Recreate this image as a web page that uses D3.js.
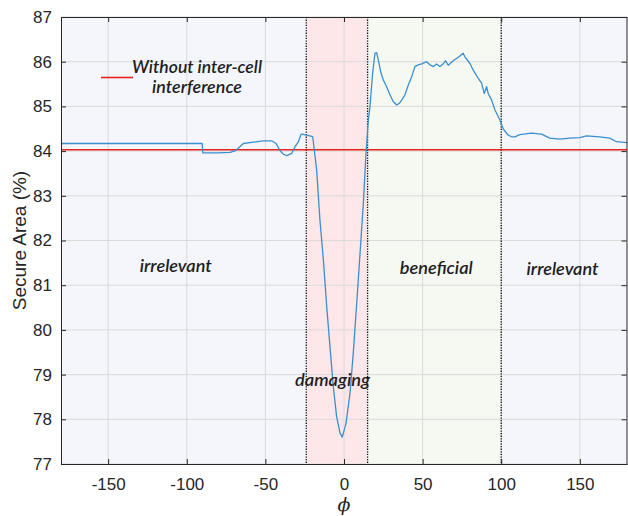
<!DOCTYPE html>
<html>
<head>
<meta charset="utf-8">
<script src="https://cdn.jsdelivr.net/npm/d3@7/dist/d3.min.js"></script>
<style>
  html, body { margin: 0; padding: 0; background: #fff; }
  svg { display: block; }
</style>
</head>
<body>
<svg id="chart" width="628" height="516"></svg>
<script>
// ---- data ----
const phi = [-180, -90.2, -89.8, -80, -72.4, -69, -64, -57.6, -51.3, -46, -43.2, -40.7, -38.5, -36.4, -33.2, -31.1, -29, -27.3, -26.9, -23.7, -20.5, -19.9, -17.4, -15.3, -13.1, -11, -8.9, -6.8, -4.7, -2.5, -1.1, 1.3, 3.8, 5.9, 8.1, 10.2, 12.3, 14.0, 15.5, 16.5, 18.2, 19.7, 20.8, 21.8, 23.3, 25.0, 27.1, 29.2, 31.3, 33.5, 35.2, 36.7, 38.8, 40.9, 43.0, 45.1, 47.2, 49.4, 52.5, 54.7, 56.8, 58.9, 61.0, 63.0, 64.6, 66.3, 69.5, 72.7, 75.8, 76.9, 80.1, 82.2, 85.3, 87.5, 89.2, 90.7, 91.7, 93.9, 96.0, 99.1, 101.2, 103.4, 104.4, 106.6, 108.7, 111.8, 119.3, 125.6, 130.9, 137.3, 143.6, 150.0, 154.2, 162.7, 169.0, 173.3, 180];
const secureArea = [84.17, 84.17, 83.96, 83.96, 83.97, 84.01, 84.17, 84.20, 84.23, 84.23, 84.17, 84.01, 83.93, 83.90, 83.95, 84.10, 84.21, 84.38, 84.38, 84.36, 84.33, 84.32, 83.58, 82.46, 81.56, 80.52, 79.62, 78.73, 78.06, 77.69, 77.60, 77.91, 78.58, 79.48, 80.60, 81.71, 82.83, 83.95, 84.70, 84.99, 85.74, 86.19, 86.20, 86.04, 85.78, 85.59, 85.44, 85.26, 85.11, 85.03, 85.07, 85.14, 85.26, 85.48, 85.66, 85.89, 85.93, 85.95, 86.00, 85.93, 85.89, 85.95, 85.89, 85.95, 86.02, 85.92, 86.02, 86.10, 86.19, 86.11, 85.96, 85.81, 85.63, 85.52, 85.29, 85.44, 85.29, 85.14, 84.92, 84.70, 84.50, 84.40, 84.36, 84.32, 84.32, 84.37, 84.40, 84.38, 84.29, 84.27, 84.29, 84.30, 84.34, 84.32, 84.29, 84.21, 84.19];
const baselineValue = 84.03;           // "Without inter-cell interference"
const boundaries = [-24, 15, 100];      // dotted region limits
const regions = [
  {from: -180, to: -24, fill: "#f4f6fb"},
  {from: -24, to: 15, fill: "#fde7e9"},
  {from: 15, to: 100, fill: "#f6f9f2"},
  {from: 100, to: 180, fill: "#f4f6fb"}
];
const regionLabels = [
  {text: "irrelevant", x: -107, y: 81.30, len: 72},
  {text: "damaging", x: -7.3, y: 78.75, len: 75},
  {text: "beneficial", x: 58.7, y: 81.25, len: 73},
  {text: "irrelevant", x: 139, y: 81.23, len: 72}
];
const xTicks = [-150, -100, -50, 0, 50, 100, 150];
const yTicks = [77, 78, 79, 80, 81, 82, 83, 84, 85, 86, 87];
const legendLines = [{text: "Without inter-cell", len: 130}, {text: "interference", len: 90}];

// ---- layout ----
const svg = d3.select("#chart");
const W = 628, H = 516;
const m = {left: 61, right: 1, top: 17, bottom: 52};
const x = d3.scaleLinear().domain([-180, 180]).range([m.left, W - m.right]);
const y = d3.scaleLinear().domain([77, 87]).range([H - m.bottom, m.top]);

const g = svg.append("g");

// region shading
g.selectAll("rect.region").data(regions).join("rect")
  .attr("x", d => x(d.from)).attr("width", d => x(d.to) - x(d.from))
  .attr("y", m.top).attr("height", y(77) - m.top)
  .attr("fill", d => d.fill);

// grid
g.selectAll("line.gx").data(xTicks).join("line")
  .attr("x1", d => x(d)).attr("x2", d => x(d))
  .attr("y1", m.top).attr("y2", y(77))
  .attr("stroke", "#dadada").attr("stroke-width", 1);
g.selectAll("line.gy").data(yTicks).join("line")
  .attr("x1", m.left).attr("x2", W - m.right)
  .attr("y1", d => y(d)).attr("y2", d => y(d))
  .attr("stroke", "#dadada").attr("stroke-width", 1);

// dotted boundaries
g.selectAll("line.bd").data(boundaries).join("line")
  .attr("x1", d => x(d)).attr("x2", d => x(d))
  .attr("y1", m.top).attr("y2", y(77))
  .attr("stroke", "#111").attr("stroke-width", 1.3)
  .attr("stroke-dasharray", "1.3,1.3");

// baseline (red)
g.append("line")
  .attr("x1", x(-180)).attr("x2", x(180))
  .attr("y1", y(baselineValue)).attr("y2", y(baselineValue))
  .attr("stroke", "#e8231f").attr("stroke-width", 1.6);

// data line
const line = d3.line().x((d, i) => x(phi[i])).y(d => y(d));
g.append("path").datum(secureArea)
  .attr("d", line)
  .attr("fill", "none")
  .attr("stroke", "#3b8fcf")
  .attr("stroke-width", 1.3)
  .attr("stroke-linejoin", "round");

// axes
const axisColor = "#262626";
const axisFont = "'Liberation Sans', Arial, Helvetica, sans-serif";
const fmt = d => String(d);
const xAxis = d3.axisBottom(x).tickValues(xTicks).tickSizeInner(-5).tickSizeOuter(0).tickPadding(14).tickFormat(fmt);
const xa = g.append("g").attr("transform", `translate(0,${y(77)})`).call(xAxis);
const yAxis = d3.axisLeft(y).tickValues(yTicks).tickSizeInner(-5).tickSizeOuter(0).tickPadding(9).tickFormat(fmt);
const ya = g.append("g").attr("transform", `translate(${m.left},0)`).call(yAxis);
// top and right box
const xt = g.append("g").attr("transform", `translate(0,${m.top})`)
  .call(d3.axisTop(x).tickValues(xTicks).tickSizeInner(-5).tickSizeOuter(0).tickFormat(""));
const yr = g.append("g").attr("transform", `translate(${W - m.right - 0.5},0)`)
  .call(d3.axisRight(y).tickValues(yTicks).tickSizeInner(-5).tickSizeOuter(0).tickFormat(""));
[xa, ya, xt, yr].forEach(a => {
  a.attr("font-family", axisFont).attr("font-size", 17);
  a.selectAll("path.domain").attr("stroke", axisColor).attr("stroke-width", 1);
  a.selectAll(".tick line").attr("stroke", axisColor).attr("stroke-width", 1);
  a.selectAll(".tick text").attr("fill", axisColor);
});

// axis labels
svg.append("text")
  .attr("transform", `translate(26,${(m.top + y(77)) / 2}) rotate(-90)`)
  .attr("text-anchor", "middle")
  .attr("fill", axisColor)
  .attr("font-family", axisFont).attr("font-size", 19)
  .text("Secure Area (%)");
svg.append("text")
  .attr("x", x(0)).attr("y", 511)
  .attr("text-anchor", "middle")
  .attr("fill", axisColor)
  .attr("font-family", "'DejaVu Serif', serif").attr("font-style", "italic").attr("font-size", 19)
  .text("ϕ");

// region labels
const annFont = "Lato, 'Open Sans', sans-serif";
g.selectAll("text.reg").data(regionLabels).join("text")
  .attr("x", d => x(d.x)).attr("y", d => y(d.y))
  .attr("text-anchor", "middle")
  .attr("textLength", d => d.len).attr("lengthAdjust", "spacingAndGlyphs")
  .attr("fill", "#1e1e1e")
  .attr("font-family", annFont).attr("font-style", "italic").attr("font-weight", 600).attr("font-size", 18)
  .text(d => d.text);

// legend
g.append("line")
  .attr("x1", 101).attr("x2", 133).attr("y1", 77.5).attr("y2", 77.5)
  .attr("stroke", "#e8231f").attr("stroke-width", 1.6);
g.selectAll("text.leg").data(legendLines).join("text")
  .attr("x", 197).attr("y", (d, i) => 73 + i * 20)
  .attr("text-anchor", "middle")
  .attr("textLength", d => d.len).attr("lengthAdjust", "spacingAndGlyphs")
  .attr("fill", "#1e1e1e")
  .attr("font-family", annFont).attr("font-style", "italic").attr("font-weight", 600).attr("font-size", 18)
  .text(d => d.text);
</script>
</body>
</html>
